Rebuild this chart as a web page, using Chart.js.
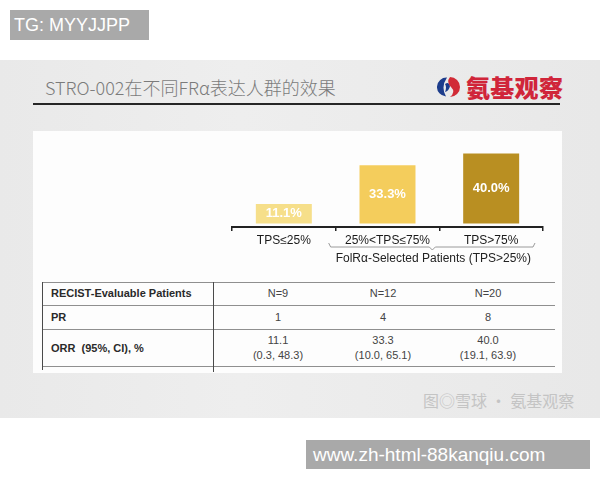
<!DOCTYPE html>
<html><head><meta charset="utf-8">
<script src="https://cdn.jsdelivr.net/npm/chart.js@4.4.1/dist/chart.umd.min.js"></script>
<style>
html,body{margin:0;padding:0;background:#fff;}
#page{position:relative;width:600px;height:480px;overflow:hidden;font-family:"Liberation Sans",Arial,sans-serif;}
.abs{position:absolute;}
#tg{left:10px;top:10px;width:139px;height:30px;background:#a9a9a9;color:#fff;font-size:18px;line-height:30px;padding-left:4px;box-sizing:border-box;}
#slide{left:0;top:60px;width:600px;height:358px;background:linear-gradient(90deg,#e9e9e9,#eeeeee 40%,#ebebeb 70%,#e8e8e8);}
#title{left:45px;top:76px;font-family:"Noto Sans CJK SC",sans-serif;font-weight:300;font-size:18px;line-height:22px;color:#7b7b7b;white-space:nowrap;}
#logo{left:437px;top:74px;height:26px;display:flex;align-items:center;}
#logo span{font-family:"Noto Sans CJK SC",sans-serif;font-weight:900;font-size:24px;line-height:26px;color:#d0253a;margin-left:5px;letter-spacing:0.3px;}
#rule{left:33px;top:103px;width:527px;height:2px;background:#262626;}
#panel{left:33px;top:131px;width:529px;height:242px;background:#fdfdfd;}
#chartBox{left:222px;top:130px;width:340px;height:150px;}
.hl{position:absolute;height:1px;background:#8f8f8f;}
.vl{position:absolute;width:1px;background:#4a4a4a;}
.cell{position:absolute;transform:translate(-50%,-50%);font-size:11px;color:#444;white-space:nowrap;text-align:center;line-height:15px;}
.rowh{position:absolute;transform:translateY(-50%);font-size:11px;font-weight:bold;color:#2a2a2a;white-space:pre;}
#wm{left:423px;top:389px;font-family:"Noto Sans CJK SC",sans-serif;font-size:16px;line-height:22px;color:#c4c4c4;white-space:nowrap;}
#url{left:306px;top:440px;width:284px;height:29px;background:#a9a9a9;color:#fff;font-size:19px;line-height:29px;padding-left:7px;box-sizing:border-box;white-space:nowrap;}
</style></head><body>
<div id="page">
  <div class="abs" id="tg">TG: MYYJJPP</div>
  <div class="abs" id="slide"></div>
  <div class="abs" id="title">STRO-002在不同FRα表达人群的效果</div>
  <div class="abs" id="logo">
    <svg width="24" height="24" viewBox="0 0 24 24">
      <path d="M10 2.5 A9.5 9.5 0 0 0 9 21.5 Q3.5 12 10 2.5Z" fill="#1d3d8c"/>
      <path d="M8 9 Q12 6 13 11 Q12 16 8 17 Q10 12 8 9Z" fill="#1d3d8c"/>
      <path d="M13 2 A10 10 0 0 1 13 22 Q19 17 14 12 Q9 7 13 2Z" fill="#d12b36"/>
    </svg>
    <span>氨基观察</span>
  </div>
  <div class="abs" id="rule"></div>
  <div class="abs" id="panel"></div>
  <div class="abs" id="chartBox"><canvas id="c" width="340" height="150"></canvas></div>
  <div id="table"></div>
  <div class="abs" id="wm">图◎雪球 · 氨基观察</div>
  <div class="abs" id="url">www.zh-html-88kanqiu.com</div>
</div>
<script>
// ---- data ----
const categories = ['TPS≤25%', '25%<TPS≤75%', 'TPS>75%'];
const orrValues = [11.1, 33.3, 40.0];
const barColors = ['#f6df8a', '#f4cd5c', '#b98f22'];
const groupLabel = 'FolRα-Selected Patients (TPS>25%)';
const rowLabels = ['RECIST-Evaluable Patients', 'PR', 'ORR  (95%, CI), %'];
const patientCounts = [9, 12, 20];
const prCounts = [1, 4, 8];
const ciLower = [0.3, 10.0, 19.1];
const ciUpper = [48.3, 65.1, 63.9];

// ---- table ----
const tbl = document.getElementById('table');
function add(cls, style, text) {
  const d = document.createElement('div');
  d.className = cls; Object.assign(d.style, style);
  if (text !== undefined) d.innerHTML = text;
  tbl.appendChild(d); return d;
}
[282, 305, 329, 366].forEach(y => add('hl', {left: '42px', top: y + 'px', width: '513px'}));
add('vl', {left: '42px', top: '282px', height: '88px'});
add('vl', {left: '213px', top: '282px', height: '90px'});
const rowY = [293, 317, 348];
rowLabels.forEach((t, i) => add('rowh', {left: '51px', top: rowY[i] + 'px'}, t));
const colX = [278, 383, 488];
colX.forEach((x, i) => {
  add('cell', {left: x + 'px', top: '293px'}, 'N=' + patientCounts[i]);
  add('cell', {left: x + 'px', top: '317px'}, String(prCounts[i]));
  add('cell', {left: x + 'px', top: '348px'},
      orrValues[i].toFixed(1) + '<br>(' + ciLower[i].toFixed(1) + ', ' + ciUpper[i].toFixed(1) + ')');
});

// ---- chart ----
const overlay = {
  id: 'overlay',
  afterDatasetsDraw(chart) {
    const ctx = chart.ctx;
    const meta = chart.getDatasetMeta(0);
    ctx.save();
    ctx.font = 'bold 13px "Liberation Sans", Arial, sans-serif';
    ctx.fillStyle = '#ffffff';
    ctx.textAlign = 'center';
    ctx.textBaseline = 'middle';
    meta.data.forEach((bar, i) => {
      ctx.fillText(orrValues[i].toFixed(1) + '%', bar.x, (bar.y + bar.base) / 2);
    });
    ctx.restore();
  },
  afterDraw(chart) {
    const ctx = chart.ctx;
    const xs = chart.scales.x;
    const half = (xs.getPixelForValue(1) - xs.getPixelForValue(0)) / 2;
    const b1 = xs.getPixelForValue(1) - half;
    const b3 = xs.getPixelForValue(2) + half;
    const x1 = b1 - 7, x2 = b3 - 8, mid = (b1 + b3) / 2 - 7;
    const yb = chart.chartArea.bottom + 20;
    ctx.save();
    ctx.strokeStyle = '#9a9a9a';
    ctx.lineWidth = 1;
    ctx.beginPath();
    ctx.moveTo(x1, yb - 4);
    ctx.lineTo(x1 + 2, yb);
    ctx.lineTo(mid - 3, yb);
    ctx.lineTo(mid, yb + 3);
    ctx.lineTo(mid + 3, yb);
    ctx.lineTo(x2 - 2, yb);
    ctx.lineTo(x2, yb - 4);
    ctx.stroke();
    ctx.font = '12px "Liberation Sans", Arial, sans-serif';
    ctx.fillStyle = '#222';
    ctx.textAlign = 'center';
    ctx.textBaseline = 'middle';
    ctx.fillText(groupLabel, mid + 1, chart.chartArea.bottom + 32);
    ctx.restore();
  }
};

new Chart(document.getElementById('c'), {
  type: 'bar',
  data: {
    labels: categories,
    datasets: [{
      data: orrValues,
      backgroundColor: barColors,
      borderWidth: 0,
      barPercentage: 0.54,
      categoryPercentage: 1
    }]
  },
  options: {
    responsive: false,
    animation: false,
    layout: {padding: {left: 10, right: 19, top: 6, bottom: 0}},
    plugins: {legend: {display: false}, tooltip: {enabled: false}},
    scales: {
      x: {
        offset: true,
        border: {display: true, color: '#222', width: 2},
        grid: {display: true, drawOnChartArea: false, drawTicks: true, tickLength: 4, color: '#222', lineWidth: 1.5, offset: true},
        ticks: {padding: 2, color: '#1a1a1a', font: {size: 12, family: '"Liberation Sans", Arial, sans-serif'}, maxRotation: 0, autoSkip: false},
        afterFit(s) { s.height = 53; }
      },
      y: {display: false, min: -2, max: 50}
    }
  },
  plugins: [overlay]
});
</script>
</body></html>
